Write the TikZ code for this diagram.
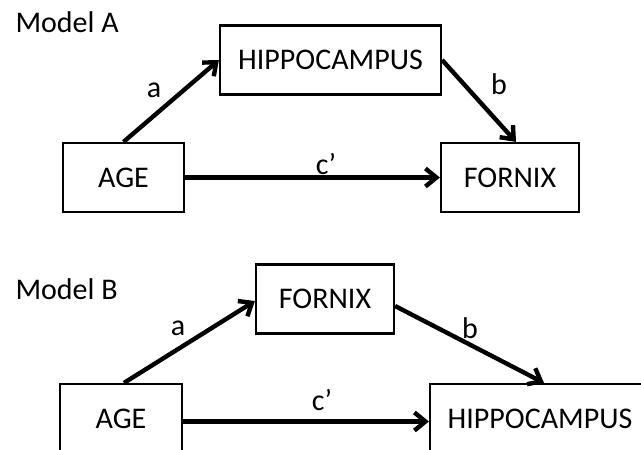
\documentclass[tikz,border=0pt]{standalone}
\usepackage{fontspec}
\setmainfont{Carlito}
\usetikzlibrary{arrows.meta}

\begin{document}
\begin{tikzpicture}[x=1pt, y=-1pt,
  every node/.style={font=\fontsize{30pt}{36pt}\selectfont},
  varbox/.style={draw, line width=2.2pt, inner sep=0pt, minimum height=69pt},
  path/.style={line width=4.4pt, -{Straight Barb[length=11pt,width=18pt]}},
  coef/.style={inner sep=0pt}
]

% frame of the picture
\useasboundingbox (0,0) rectangle (641,450);
\clip (0,0) rectangle (641,450);

% Model A
\node[anchor=base west] (titleA) at (12,32) {Model A};
\node[varbox, minimum width=121pt] (ageA)   at (123.5,177.5) {AGE};
\node[varbox, minimum width=221pt] (hippoA) at (330.5,60) {HIPPOCAMPUS};
\node[varbox, minimum width=138pt] (fornA)  at (510,177.5) {FORNIX};

\draw[path] (ageA.north) -- (hippoA.west);
\draw[path] (hippoA.east) -- ([xshift=6pt]fornA.north);
\draw[path] (ageA.east) -- (fornA.west);

\node[coef] (aA) at (154,90) {a};
\node[coef] (bA) at (499,84) {b};
\node[coef] (cA) at (326,164) {c’};

% Model B
\node[anchor=base west] (titleB) at (12,299) {Model B};
\node[varbox, minimum width=122pt] (ageB)   at (121,418.5) {AGE};
\node[varbox, minimum width=138pt] (fornB)  at (325,299) {FORNIX};
\node[varbox, minimum width=220pt] (hippoB) at (540,418.5) {HIPPOCAMPUS};

\draw[path] ([xshift=3pt]ageB.north) -- ([yshift=-2pt]fornB.west);
\draw[path] ([yshift=-7pt]fornB.east) -- ([xshift=4pt]hippoB.north);
\draw[path] ([yshift=-3pt]ageB.east) -- ([yshift=-3pt]hippoB.west);

\node[coef] (aB) at (178,328) {a};
\node[coef] (bB) at (470,328) {b};
\node[coef] (cB) at (322,400) {c’};

\end{tikzpicture}
\end{document}
